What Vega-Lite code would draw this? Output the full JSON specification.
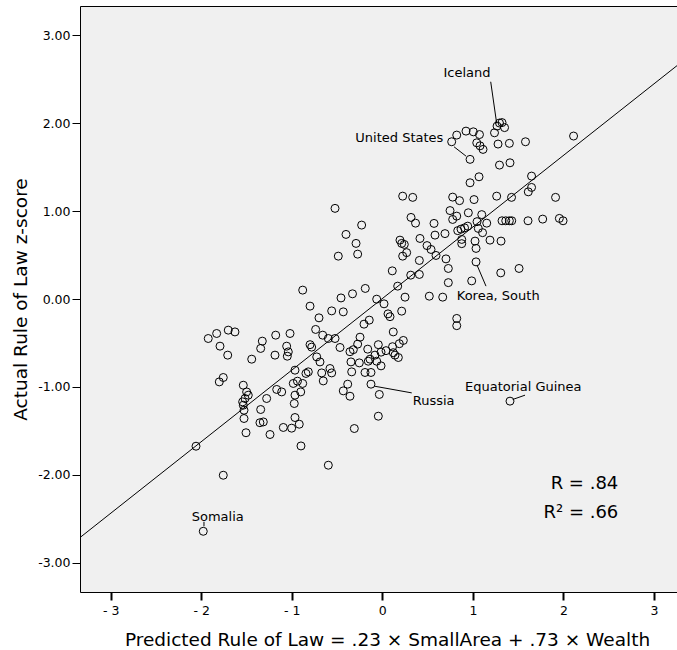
{
  "$schema": "https://vega.github.io/schema/vega-lite/v6.json",
  "width": 597,
  "height": 586,
  "autosize": {"type": "none"},
  "padding": {"left": 80, "top": 6, "right": 0, "bottom": 58},
  "background": "#ffffff",
  "config": {
    "view": {"fill": "#f0f0f0", "stroke": "#000000", "strokeWidth": 1},
    "axis": {
      "grid": false,
      "domain": false,
      "tickColor": "#000000",
      "labelColor": "#000000",
      "titleColor": "#000000",
      "labelFont": "DejaVu Sans",
      "titleFont": "DejaVu Sans",
      "labelFontSize": 12.5,
      "titleFontSize": 18.5,
      "titleFontWeight": "normal",
      "tickSize": 8
    }
  },
  "datasets": {
    "points": [
      {"x":-2.057,"y":-1.673},{"x":-1.977,"y":-2.640},{"x":-1.756,"y":-2.003},{"x":-1.922,"y":-0.449},{"x":-1.829,"y":-0.392},{"x":-1.701,"y":-0.354},{"x":-1.627,"y":-0.374},{"x":-1.792,"y":-0.536},{"x":-1.707,"y":-0.638},{"x":-1.442,"y":-0.684},
      {"x":-1.343,"y":-0.562},{"x":-1.325,"y":-0.479},{"x":-1.177,"y":-0.411},{"x":-1.019,"y":-0.392},{"x":-1.185,"y":-0.638},{"x":-1.056,"y":-0.536},{"x":-1.038,"y":-0.601},{"x":-1.049,"y":-0.650},{"x":-0.736,"y":-0.346},{"x":-0.798,"y":-0.519},
      {"x":-0.780,"y":-0.547},{"x":-0.658,"y":-0.411},{"x":-0.596,"y":-0.449},{"x":-0.522,"y":-0.449},{"x":-0.724,"y":-0.658},{"x":-0.688,"y":-0.715},{"x":-1.800,"y":-0.942},{"x":-1.756,"y":-0.892},{"x":-1.535,"y":-0.980},{"x":-1.498,"y":-1.056},
      {"x":-1.480,"y":-1.093},{"x":-1.516,"y":-1.131},{"x":-1.542,"y":-1.169},{"x":-1.535,"y":-1.207},{"x":-1.527,"y":-1.264},{"x":-1.527,"y":-1.358},{"x":-1.505,"y":-1.520},{"x":-1.277,"y":-1.131},{"x":-1.166,"y":-1.028},{"x":-1.111,"y":-1.056},
      {"x":-1.343,"y":-1.256},{"x":-1.351,"y":-1.406},{"x":-1.314,"y":-1.397},{"x":-1.240,"y":-1.540},{"x":-1.093,"y":-1.460},{"x":-1.001,"y":-1.468},{"x":-0.964,"y":-0.809},{"x":-0.983,"y":-0.960},{"x":-0.937,"y":-0.934},{"x":-0.879,"y":-0.960},
      {"x":-0.843,"y":-0.846},{"x":-0.817,"y":-0.828},{"x":-0.901,"y":-1.056},{"x":-0.964,"y":-1.093},{"x":-0.972,"y":-1.188},{"x":-0.964,"y":-1.347},{"x":-0.917,"y":-1.423},{"x":-0.898,"y":-1.670},{"x":-0.669,"y":-0.840},{"x":-0.652,"y":-0.931},
      {"x":-0.578,"y":-0.790},{"x":-0.559,"y":-0.840},{"x":-0.596,"y":-1.889},{"x":-0.522,"y":1.030},{"x":-0.486,"y":0.487},{"x":-0.879,"y":0.101},{"x":-0.798,"y":-0.081},{"x":-0.699,"y":-0.214},{"x":-0.559,"y":-0.135},{"x":-0.456,"y":0.012},
      {"x":-0.431,"y":-0.146},{"x":-0.467,"y":-0.551},{"x":-0.431,"y":-1.044},{"x":-0.382,"y":-0.968},{"x":-0.357,"y":-1.105},{"x":-0.309,"y":-1.472},{"x":-0.401,"y":0.734},{"x":-0.290,"y":0.632},{"x":-0.272,"y":0.510},{"x":-0.228,"y":0.840},
      {"x":0.225,"y":1.169},{"x":0.336,"y":1.155},{"x":0.317,"y":0.927},{"x":0.367,"y":0.862},{"x":0.195,"y":0.669},{"x":0.214,"y":0.632},{"x":0.243,"y":0.620},{"x":0.225,"y":0.487},{"x":0.269,"y":0.527},{"x":0.409,"y":0.438},
      {"x":0.110,"y":0.320},{"x":0.314,"y":0.271},{"x":0.409,"y":0.279},{"x":0.170,"y":0.146},{"x":-0.188,"y":0.120},{"x":-0.329,"y":0.059},{"x":-0.062,"y":-0.002},{"x":0.019,"y":-0.055},{"x":0.251,"y":0.021},{"x":0.214,"y":-0.138},
      {"x":0.063,"y":-0.169},{"x":0.085,"y":-0.201},{"x":-0.144,"y":-0.240},{"x":-0.202,"y":-0.286},{"x":0.121,"y":-0.374},{"x":-0.246,"y":-0.434},{"x":-0.272,"y":-0.513},{"x":-0.357,"y":-0.599},{"x":-0.320,"y":-0.576},{"x":-0.161,"y":-0.570},
      {"x":-0.044,"y":-0.519},{"x":-0.014,"y":-0.604},{"x":0.113,"y":-0.542},{"x":0.121,"y":-0.610},{"x":0.188,"y":-0.508},{"x":0.232,"y":-0.471},{"x":-0.081,"y":-0.638},{"x":0.041,"y":-0.587},{"x":0.140,"y":-0.638},{"x":0.177,"y":-0.665},
      {"x":-0.136,"y":-0.684},{"x":-0.155,"y":-0.707},{"x":-0.062,"y":-0.707},{"x":-0.254,"y":-0.726},{"x":-0.346,"y":-0.715},{"x":-0.014,"y":-0.760},{"x":-0.191,"y":-0.835},{"x":-0.125,"y":-0.835},{"x":-0.338,"y":-0.828},{"x":-0.125,"y":-0.968},
      {"x":-0.033,"y":-1.085},{"x":-0.044,"y":-1.332},{"x":0.416,"y":0.688},{"x":0.494,"y":0.607},{"x":0.538,"y":0.563},{"x":0.593,"y":0.495},{"x":0.703,"y":0.456},{"x":0.571,"y":0.859},{"x":0.692,"y":0.743},{"x":0.582,"y":0.726},
      {"x":0.729,"y":0.347},{"x":0.729,"y":0.186},{"x":0.519,"y":0.032},{"x":0.667,"y":0.021},{"x":0.822,"y":-0.221},{"x":0.822,"y":-0.303},{"x":1.035,"y":0.422},{"x":0.987,"y":0.206},{"x":1.308,"y":0.297},{"x":1.510,"y":0.347},
      {"x":0.777,"y":1.158},{"x":0.853,"y":1.118},{"x":1.013,"y":1.130},{"x":1.263,"y":1.169},{"x":1.427,"y":1.155},{"x":1.913,"y":1.155},{"x":0.748,"y":1.005},{"x":0.822,"y":0.942},{"x":0.777,"y":0.904},{"x":0.950,"y":0.980},
      {"x":1.098,"y":0.959},{"x":1.046,"y":0.879},{"x":1.153,"y":0.862},{"x":1.322,"y":0.889},{"x":1.363,"y":0.889},{"x":1.403,"y":0.889},{"x":1.429,"y":0.889},{"x":1.609,"y":0.889},{"x":1.771,"y":0.908},{"x":1.955,"y":0.916},
      {"x":1.996,"y":0.889},{"x":0.833,"y":0.777},{"x":0.869,"y":0.794},{"x":0.908,"y":0.809},{"x":0.943,"y":0.828},{"x":1.060,"y":0.802},{"x":1.107,"y":0.754},{"x":1.189,"y":0.669},{"x":1.311,"y":0.658},{"x":1.024,"y":0.658},
      {"x":1.035,"y":0.575},{"x":0.877,"y":0.677},{"x":0.877,"y":0.629},{"x":0.969,"y":1.321},{"x":1.068,"y":1.389},{"x":1.648,"y":1.397},{"x":1.648,"y":1.268},{"x":1.612,"y":1.218},{"x":1.294,"y":1.522},{"x":1.410,"y":1.548},
      {"x":1.278,"y":1.761},{"x":1.403,"y":1.769},{"x":1.581,"y":1.787},{"x":2.112,"y":1.852},{"x":0.766,"y":1.787},{"x":0.822,"y":1.863},{"x":0.924,"y":1.908},{"x":1.005,"y":1.900},{"x":1.073,"y":1.869},{"x":1.043,"y":1.775},
      {"x":1.079,"y":1.741},{"x":1.112,"y":1.700},{"x":0.969,"y":1.587},{"x":1.267,"y":1.965},{"x":1.294,"y":2.000},{"x":1.322,"y":2.005},{"x":1.350,"y":1.948},{"x":1.239,"y":1.889},{"x":1.410,"y":-1.161}
    ],
    "fit": [{"x": -3.338, "y": -2.711}, {"x": 3.254, "y": 2.652}],
    "leaders": [
      {"x": 1.197, "y": 2.469, "x2": 1.263, "y2": 1.996},
      {"x": 0.792, "y": 1.730, "x2": 0.924, "y2": 1.624},
      {"x": 1.145, "y": 0.146, "x2": 1.046, "y2": 0.385},
      {"x": -0.086, "y": -0.991, "x2": 0.325, "y2": -1.067},
      {"x": 1.440, "y": -1.142, "x2": 1.576, "y2": -1.093},
      {"x": -1.969, "y": -2.532, "x2": -1.969, "y2": -2.583}
    ],
    "labelsLeft": [
      {"x": 0.822, "y": 0.032, "label": "Korea, South"},
      {"x": 0.336, "y": -1.161, "label": "Russia"},
      {"x": 0.913, "y": -0.999, "label": "Equatorial Guinea"}
    ],
    "labelsRight": [
      {"x": 0.674, "y": 1.825, "label": "United States"}
    ],
    "labelsCenter": [
      {"x": 0.935, "y": 2.568, "label": "Iceland"},
      {"x": -1.817, "y": -2.477, "label": "Somalia"}
    ],
    "stats": [
      {"x": 2.606, "y": -2.097, "label": "R = .84"},
      {"x": 2.606, "y": -2.431, "label": "R² = .66"}
    ]
  },
  "encoding": {
    "x": {
      "field": "x",
      "type": "quantitative",
      "scale": {"domain": [-3.338, 3.254], "nice": false, "zero": false},
      "axis": {
        "values": [-3, -2, -1, 0, 1, 2, 3],
        "labelExpr": "datum.value < 0 ? '- ' + abs(datum.value) : '' + datum.value",
        "tickWidth": 2,
        "labelPadding": 4,
        "title": "Predicted Rule of Law = .23 × SmallArea + .73 × Wealth",
        "titleX": 307,
        "titleY": 53,
        "titleAlign": "center",
        "titleBaseline": "alphabetic"
      }
    },
    "y": {
      "field": "y",
      "type": "quantitative",
      "scale": {"domain": [-3.33, 3.33], "nice": false, "zero": false},
      "axis": {
        "values": [-3, -2, -1, 0, 1, 2, 3],
        "labelExpr": "(datum.value < 0 ? '-' : '') + format(abs(datum.value), '.2f')",
        "tickWidth": 1,
        "labelPadding": 2,
        "title": "Actual Rule of Law z-score",
        "titleAngle": 270,
        "titleX": -53.5,
        "titleY": 293,
        "titleAlign": "center",
        "titleBaseline": "alphabetic"
      }
    }
  },
  "layer": [
    {
      "data": {"name": "fit"},
      "mark": {"type": "line", "color": "#000000", "strokeWidth": 1, "clip": true},
      "encoding": {}
    },
    {
      "data": {"name": "leaders"},
      "mark": {"type": "rule", "color": "#000000", "strokeWidth": 1},
      "encoding": {
        "x2": {"field": "x2"},
        "y2": {"field": "y2"}
      }
    },
    {
      "data": {"name": "points"},
      "mark": {"type": "point", "shape": "circle", "filled": false, "color": "#000000", "strokeWidth": 1, "size": 64, "opacity": 1}
    },
    {
      "data": {"name": "labelsLeft"},
      "mark": {"type": "text", "align": "left", "baseline": "middle", "font": "DejaVu Sans", "fontSize": 13, "color": "#000000"},
      "encoding": {"text": {"field": "label"}}
    },
    {
      "data": {"name": "labelsRight"},
      "mark": {"type": "text", "align": "right", "baseline": "middle", "font": "DejaVu Sans", "fontSize": 13, "color": "#000000"},
      "encoding": {"text": {"field": "label"}}
    },
    {
      "data": {"name": "labelsCenter"},
      "mark": {"type": "text", "align": "center", "baseline": "middle", "font": "DejaVu Sans", "fontSize": 13, "color": "#000000"},
      "encoding": {"text": {"field": "label"}}
    },
    {
      "data": {"name": "stats"},
      "mark": {"type": "text", "align": "right", "baseline": "middle", "font": "DejaVu Sans", "fontSize": 18, "color": "#000000"},
      "encoding": {"text": {"field": "label"}}
    }
  ]
}
